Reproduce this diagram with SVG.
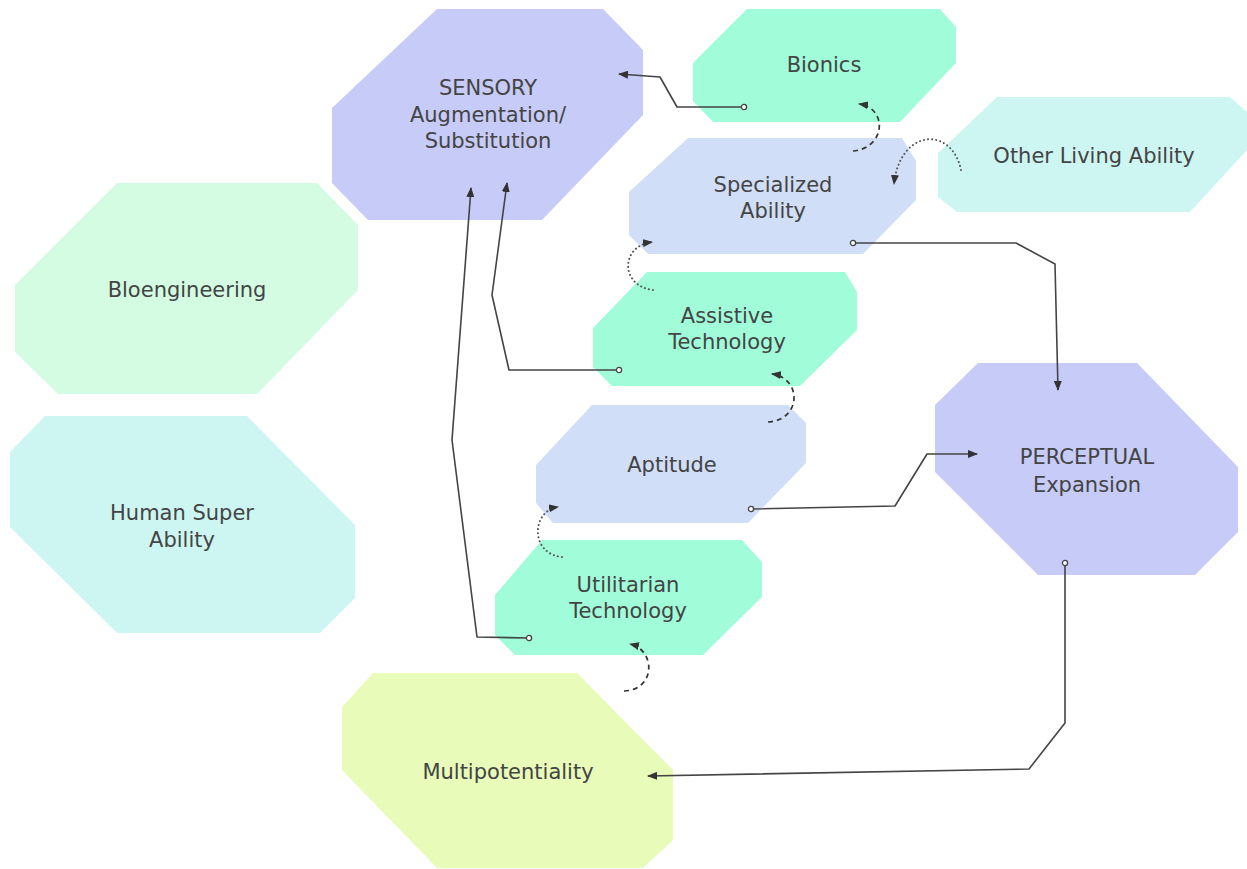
<svg xmlns="http://www.w3.org/2000/svg" width="1247" height="869" viewBox="0 0 1247 869">
  <style>
    .lbl { font-family: "DejaVu Sans", "Liberation Sans", sans-serif; font-size: 21px; fill: #444; text-anchor: middle; }
    .lavender { fill: #c6cbf7; }
    .mint { fill: #a1fcd9; }
    .sky { fill: #d0dff7; }
    .aqua { fill: #cdf6f3; }
    .pale { fill: #d3fce3; }
    .lime { fill: #e8fbb8; }
    .link { fill: none; stroke: #444; stroke-width: 1.6; stroke-linejoin: round; }
    .dash { fill: none; stroke: #333; stroke-width: 1.7; stroke-dasharray: 5 4; }
    .dot { fill: none; stroke: #555; stroke-width: 2; stroke-dasharray: 0.1 4; stroke-linecap: round; }
  </style>
  <defs>
    <marker id="arrow" viewBox="0 0 10 8" refX="9" refY="4" markerWidth="10" markerHeight="8" markerUnits="userSpaceOnUse" orient="auto">
      <path d="M0,0 L10,4 L0,8 z" fill="#333"/>
    </marker>
    <marker id="dot-start" viewBox="0 0 8 8" refX="4" refY="4" markerWidth="8" markerHeight="8" markerUnits="userSpaceOnUse">
      <circle cx="4" cy="4" r="2.6" fill="#fff" stroke="#444" stroke-width="1.3"/>
    </marker>
  </defs>

  <!-- nodes -->
  <g id="sensory">
    <polygon class="lavender" points="437,9 603,9 643,50 643,115 542,220 368,220 332,183 332,108"/>
    <text class="lbl" x="488" y="95">SENSORY</text>
    <text class="lbl" x="488" y="122">Augmentation/</text>
    <text class="lbl" x="488" y="148">Substitution</text>
  </g>
  <g id="bionics">
    <polygon class="mint" points="747,9 940,9 956,27 956,63 900,122 713,122 693,101 693,63"/>
    <text class="lbl" x="824" y="72">Bionics</text>
  </g>
  <g id="specialized">
    <polygon class="sky" points="688,138 902,138 916,161 916,200 863,254 648,254 629,235 629,192"/>
    <text class="lbl" x="773" y="192">Specialized</text>
    <text class="lbl" x="773" y="218">Ability</text>
  </g>
  <g id="other-living">
    <polygon class="aqua" points="997,97 1230,97 1247,112 1247,150 1190,212 957,212 938,197 938,153"/>
    <text class="lbl" x="1094" y="163">Other Living Ability</text>
  </g>
  <g id="bioengineering">
    <polygon class="pale" points="117,183 317,183 358,225 358,290 257,394 58,394 15,352 15,285"/>
    <text class="lbl" x="187" y="297">Bloengineering</text>
  </g>
  <g id="human-super">
    <polygon class="aqua" points="45,416 247,416 355,525 355,598 320,633 117,633 10,527 10,452"/>
    <text class="lbl" x="182" y="520">Human Super</text>
    <text class="lbl" x="182" y="547">Ability</text>
  </g>
  <g id="assistive">
    <polygon class="mint" points="647,272 845,272 857,292 857,330 800,386 612,386 593,367 593,328"/>
    <text class="lbl" x="727" y="323">Assistive</text>
    <text class="lbl" x="727" y="349">Technology</text>
  </g>
  <g id="aptitude">
    <polygon class="sky" points="592,405 788,405 806,423 806,463 748,523 553,523 536,503 536,465"/>
    <text class="lbl" x="672" y="472">Aptitude</text>
  </g>
  <g id="utilitarian">
    <polygon class="mint" points="542,540 742,540 762,562 762,597 703,655 515,655 495,635 495,595"/>
    <text class="lbl" x="628" y="592">Utilitarian</text>
    <text class="lbl" x="628" y="618">Technology</text>
  </g>
  <g id="perceptual">
    <polygon class="lavender" points="978,363 1137,363 1238,467 1238,532 1195,575 1038,575 935,472 935,405"/>
    <text class="lbl" x="1087" y="464">PERCEPTUAL</text>
    <text class="lbl" x="1087" y="492">Expansion</text>
  </g>
  <g id="multipotentiality">
    <polygon class="lime" points="373,673 577,673 673,770 673,840 643,868 437,868 342,770 342,707"/>
    <text class="lbl" x="508" y="779">Multipotentiality</text>
  </g>

  <!-- connectors -->
  <g id="connectors">
    <polyline class="link" points="744,107 677,107 660,77 619,74" marker-start="url(#dot-start)" marker-end="url(#arrow)"/>
    <polyline class="link" points="853,243 1016,243 1055,264 1058,390" marker-start="url(#dot-start)" marker-end="url(#arrow)"/>
    <polyline class="link" points="751,509 895,506 927,454 977,454" marker-start="url(#dot-start)" marker-end="url(#arrow)"/>
    <polyline class="link" points="1065,563 1065,723 1029,769 648,776" marker-start="url(#dot-start)" marker-end="url(#arrow)"/>
    <polyline class="link" points="619,370 509,370 492,295 507,183" marker-start="url(#dot-start)" marker-end="url(#arrow)"/>
    <polyline class="link" points="529,638 477,637 452,440 471,188" marker-start="url(#dot-start)" marker-end="url(#arrow)"/>

    <path class="dash" d="M853,151 C886,148 888,108 859,104" marker-end="url(#arrow)"/>
    <path class="dot" d="M961,170 C952,126 900,128 894,184" marker-end="url(#arrow)"/>
    <path class="dot" d="M653,290 C620,286 620,246 652,242" marker-end="url(#arrow)"/>
    <path class="dash" d="M768,422 C802,420 802,378 772,374" marker-end="url(#arrow)"/>
    <path class="dot" d="M562,557 C530,554 531,511 558,507" marker-end="url(#arrow)"/>
    <path class="dash" d="M624,691 C656,690 656,650 630,644" marker-end="url(#arrow)"/>
  </g>
</svg>
